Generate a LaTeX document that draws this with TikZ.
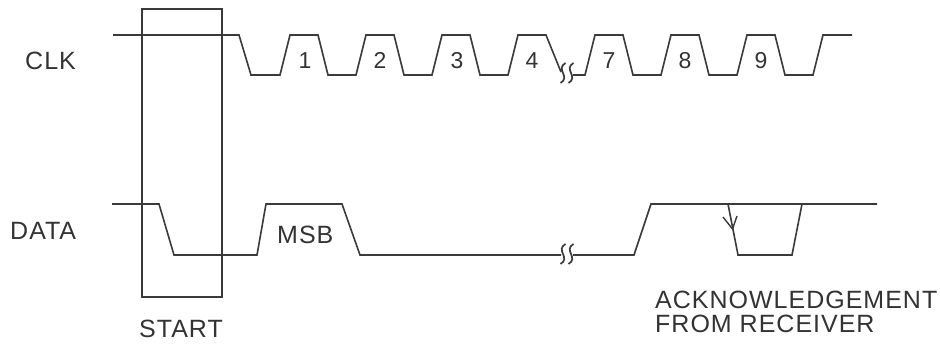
\documentclass[tikz,border=0pt]{standalone}
\usepackage{fontspec}
\newfontfamily\labfont[LetterSpace=4]{Liberation Sans}
\usetikzlibrary{arrows.meta}
\definecolor{ink}{HTML}{3A3A3A}
\definecolor{txt}{HTML}{333333}
\tikzset{
  sig/.style={draw=ink, line width=1.6pt, line join=miter},
  lbl/.style={text=txt, font=\labfont\fontsize{25}{24}\selectfont, inner sep=0pt, anchor=base west, align=left},
  num/.style={text=txt, font=\labfont\fontsize{23}{24}\selectfont, inner sep=0pt, anchor=base},
  brk/.style={draw=ink, line width=1.7pt},
}
\newcommand{\brkmark}[2]{%
  \draw[brk] (#1+2.5,#2-10) .. controls (#1-8,#2-4) and (#1+8,#2+4) .. (#1-2.5,#2+10);}
\begin{document}
\begin{tikzpicture}[x=1pt,y=-1pt]
\useasboundingbox (0,0) rectangle (940,343);
% labels
\node[lbl] (clk) at (25,69) {CLK};
\node[lbl] (data) at (10,239) {DATA};
\node[lbl] (start) at (139,337) {START};
\node[lbl] (msb) at (277,243) {MSB};
\node[lbl, anchor=north west] (ack) at (655,291) {ACKNOWLEDGEMENT\\FROM RECEIVER};
% start box
\draw[sig, line width=1.4pt] (142,9) rectangle (222,297);
% CLK
\draw[sig] (113,35) -- (239,35) -- (251,75) -- (280,75) -- (290,35) -- (318,35) -- (328,75)
  -- (356,75) -- (366,35) -- (394,35) -- (404,75)
  -- (432,75) -- (442,35) -- (470,35) -- (480,75)
  -- (508,75) -- (518,35) -- (546,35) -- (561,72);
\brkmark{563}{73}
\brkmark{571}{73}
\draw[sig] (573,75) -- (585,75) -- (595,35) -- (623,35) -- (633,75)
  -- (661,75) -- (671,35) -- (699,35) -- (709,75)
  -- (737,75) -- (747,35) -- (775,35) -- (785,75)
  -- (813,75) -- (823,35) -- (852,35);
% pulse numbers
\node[num] (n1) at (305,68) {1};
\node[num] (n2) at (380,68) {2};
\node[num] (n3) at (457,68) {3};
\node[num] (n4) at (532,68) {4};
\node[num] (n7) at (609,68) {7};
\node[num] (n8) at (685,68) {8};
\node[num] (n9) at (761,68) {9};
% DATA
\draw[sig] (112,204) -- (159,204) -- (174,255) -- (257,255) -- (266,204) -- (342,204)
  -- (360,255) -- (561,255);
\brkmark{563}{254}
\brkmark{571}{254}
\draw[sig] (573,255) -- (634,255) -- (651,204) -- (877,204);
% acknowledgement dip
\draw[sig] (728,204) -- (738,255) -- (792,255) -- (802,204);
\draw[ink, line width=1.4pt] (723,217) -- (732.5,229) -- (737,216);
\end{tikzpicture}
\end{document}
